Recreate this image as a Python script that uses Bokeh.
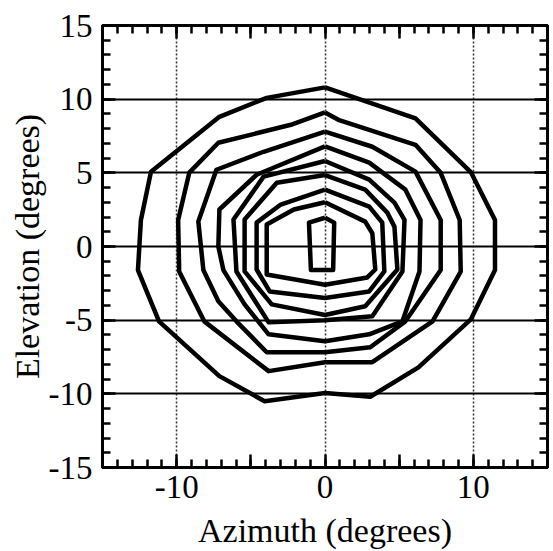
from bokeh.plotting import figure
from bokeh.models import LinearAxis, SingleIntervalTicker, FixedTicker, Range1d, CustomLabelingPolicy
from bokeh.embed import file_html
from bokeh.resources import INLINE

# Contour levels (azimuth, elevation in degrees), outermost to innermost
c1_az = [0, 6.1, 9.83, 11.46, 11.46, 9.83, 6.3, 3.05, 0, -4.07, -7.12, -11.19, -12.61, -12.41, -11.73, -7.12, -3.93]
c1_el = [10.8, 8.7, 5.05, 1.8, -1.6, -4.95, -8.2, -10.2, -9.95, -10.5, -8.8, -5.08, -1.6, 1.8, 5.08, 8.8, 10.09]

c2_az = [0, 0.9, 6.1, 7.8, 9.08, 9.15, 7.25, 3.19, 0, -3.8, -8.14, -9.83, -9.9, -9.15, -7.19, -2.3]
c2_el = [9.1, 8.6, 6.9, 5.0, 1.8, -1.7, -5.08, -7.85, -7.85, -8.46, -5.08, -1.7, 1.8, 5.01, 7.04, 8.26]

c3_az = [0, 3.19, 6.10, 7.80, 7.80, 5.42, 3.05, 0, -3.93, -5.97, -7.19, -8.2, -8.54, -7.32, -4.14]
c3_el = [7.8, 6.77, 5.08, 1.8, -1.6, -5.08, -6.84, -7.18, -7.18, -5.08, -3.72, -1.6, 1.7, 5.21, 6.43]

c4_az = [0, 2.98, 5.42, 6.44, 6.37, 5.22, 2.98, 0, -3.8, -5.42, -6.85, -7.19, -7.12, -4.61]
c4_el = [6.8, 5.69, 3.86, 1.8, -1.7, -5.08, -5.96, -6.43, -5.96, -3.93, -1.6, 0.0, 2.51, 4.87]

c5_az = [0, 2.98, 4.68, 5.36, 5.22, 3.19, 0, -3.8, -5.97, -6.17, -4.14]
c5_el = [5.8, 4.54, 2.98, 1.8, -1.69, -4.74, -5.0, -5.15, -1.7, 1.83, 4.74]

c6_az = [0, 2.71, 4.2, 4.68, 4.88, 2.71, 0, -3.59, -5.42, -5.42, -3.25]
c6_el = [4.85, 3.86, 2.3, 1.35, -1.56, -4.06, -4.65, -3.93, -1.69, 1.83, 4.33]

c7_az = [0, 2.98, 3.86, 4.0, 2.98, 0, -3.73, -4.61, -4.61, -2.98]
c7_el = [3.86, 2.71, 1.62, -1.69, -3.05, -3.5, -3.05, -1.56, 1.62, 2.85]

c8_az = [0, 2.71, 3.19, 3.39, 2.85, 0, -3.93, -3.93, -2.1]
c8_el = [3.0, 1.69, 0.9, -1.56, -2.1, -2.6, -1.9, 1.49, 2.51]

c9_az = [0, 0.62, 0.55, -0.95, -1.08]
c9_el = [1.95, 1.62, -1.6, -1.6, 1.62]

contours = [(c1_az, c1_el), (c2_az, c2_el), (c3_az, c3_el), (c4_az, c4_el),
            (c5_az, c5_el), (c6_az, c6_el), (c7_az, c7_el), (c8_az, c8_el),
            (c9_az, c9_el)]

x_ticks_labelled = [-10, 0, 10]
y_ticks_labelled = [-15, -10, -5, 0, 5, 10, 15]
x_grid_ticks = [-10, 0, 10]
y_grid_ticks = [-10, -5, 0, 5, 10]

FONT = "Liberation Serif"

p = figure(width=550, height=551, x_range=Range1d(-15, 15), y_range=Range1d(-15, 15),
           output_backend="svg", toolbar_location=None,
           min_border_left=102, min_border_right=3, min_border_top=25, min_border_bottom=83)
p.background_fill_color = "white"
p.border_fill_color = "white"
p.outline_line_color = "black"
p.outline_line_width = 3

x_over = {t: (str(t) if t in x_ticks_labelled else "") for t in range(-15, 16, 5)}
y_over = {t: str(t) for t in y_ticks_labelled}


def style_axis(ax, overrides, show_labels=True):
    ax.ticker = SingleIntervalTicker(interval=5, num_minor_ticks=5)
    ax.axis_line_color = "black"
    ax.axis_line_width = 3
    ax.major_tick_in = 13
    ax.major_tick_out = 0
    ax.minor_tick_in = 8
    ax.minor_tick_out = 0
    ax.major_tick_line_color = "black"
    ax.major_tick_line_width = 2.5
    ax.minor_tick_line_color = "black"
    ax.minor_tick_line_width = 2.5
    ax.major_label_text_font = FONT
    ax.major_label_text_color = "black"
    ax.axis_label_text_font = FONT
    ax.axis_label_text_font_style = "normal"
    ax.axis_label_text_color = "black"
    ax.axis_label_text_font_size = "34px"
    if show_labels:
        ax.major_label_text_font_size = "33px"
        ax.major_label_overrides = overrides
    else:
        ax.major_label_text_font_size = "0px"
        ax.major_label_policy = CustomLabelingPolicy(code="return []")
        ax.major_label_standoff = 0


xb = p.xaxis[0]
yl = p.yaxis[0]
style_axis(xb, x_over)
style_axis(yl, y_over)
xb.axis_label = "Azimuth (degrees)"
yl.axis_label = "Elevation (degrees)"
xb.major_label_standoff = 8
xb.axis_label_standoff = 11
yl.major_label_standoff = 10
yl.axis_label_standoff = 0

xt = LinearAxis()
style_axis(xt, {}, show_labels=False)
p.add_layout(xt, "above")
yr = LinearAxis()
style_axis(yr, {}, show_labels=False)
p.add_layout(yr, "right")

p.xgrid.ticker = FixedTicker(ticks=x_grid_ticks)
p.xgrid.grid_line_color = "#333333"
p.xgrid.grid_line_width = 1.5
p.xgrid.grid_line_dash = "2 2"
p.ygrid.ticker = FixedTicker(ticks=y_grid_ticks)
p.ygrid.grid_line_color = "black"
p.ygrid.grid_line_width = 2

for az, el in contours:
    p.line(list(az) + [az[0]], list(el) + [el[0]], line_color="black", line_width=4.5,
           line_join="round")

open("out.html", "w").write(file_html(p, INLINE))
